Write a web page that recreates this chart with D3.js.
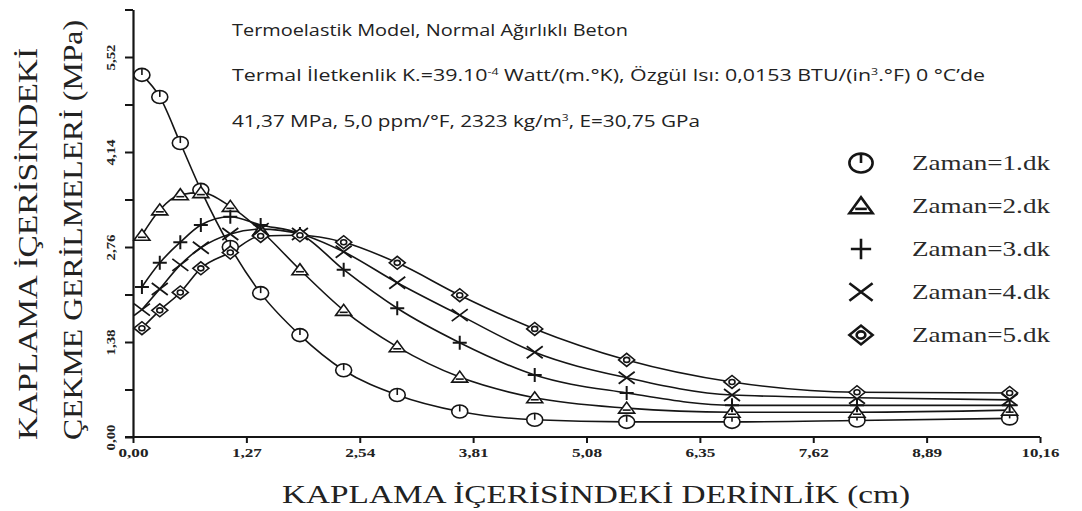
<!DOCTYPE html>
<html><head><meta charset="utf-8">
<script src="https://cdn.jsdelivr.net/npm/d3@7"></script>
<style>body{margin:0;background:#fff}svg{display:block}</style>
</head><body>
<svg id="c" width="1082" height="511"></svg>
<script>
// ---- data ----
const depth = [0.10,0.30,0.53,0.76,1.09,1.43,1.87,2.36,2.96,3.66,4.50,5.53,6.71,8.11,9.82];
const zaman1 = [5.26,4.94,4.27,3.59,2.76,2.09,1.48,0.97,0.61,0.37,0.25,0.22,0.22,0.24,0.27];
const zaman2 = [2.93,3.30,3.52,3.55,3.35,3.00,2.43,1.84,1.31,0.87,0.57,0.42,0.36,0.36,0.39];
const zaman3 = [2.18,2.53,2.83,3.08,3.20,3.08,2.95,2.43,1.87,1.37,0.90,0.64,0.46,0.46,0.46];
const zaman4 = [1.85,2.15,2.50,2.75,2.95,3.02,2.95,2.69,2.24,1.77,1.23,0.86,0.61,0.57,0.54];
const zaman5 = [1.58,1.84,2.10,2.45,2.68,2.92,2.93,2.83,2.53,2.06,1.57,1.12,0.80,0.65,0.64];
const seriesNames = ["Zaman=1.dk","Zaman=2.dk","Zaman=3.dk","Zaman=4.dk","Zaman=5.dk"];
const xTicks = [0,1.27,2.54,3.81,5.08,6.35,7.62,8.89,10.16];
const yTicks = [0,0.69,1.38,2.07,2.76,3.45,4.14,4.83,5.52,6.21];
const yLabelTicks = [0,1.38,2.76,4.14,5.52];
const noteLines = ["Termoelastik Model, Normal  Ağırlıklı Beton","Termal İletkenlik","41,37 MPa, 5,0 ppm/°F,  2323 kg/m"];

const svg = d3.select("#c");
const x = d3.scaleLinear().domain([0,10.16]).range([133,1040]);
const y = d3.scaleLinear().domain([0,6.21]).range([437,9.5]);
const ink = "#151515";
const fmt = v => v.toFixed(2).replace(".",",");

// axes
const xAxis = d3.axisBottom(x).tickValues(xTicks).tickSize(6).tickFormat(fmt).tickSizeOuter(0);
const gx = svg.append("g").attr("transform","translate(0,437)").call(xAxis);
gx.select(".domain").attr("stroke",ink).attr("stroke-width",2.2).attr("d","M125,0H1040");
gx.selectAll(".tick line").attr("stroke",ink).attr("stroke-width",2);
gx.selectAll(".tick text").attr("fill","#222").attr("font-family","Liberation Serif").attr("font-weight","bold")
  .attr("font-size",12).attr("dy",0).attr("y",20)
  .attr("textLength",d=>d>=10?38:30).attr("lengthAdjust","spacingAndGlyphs");

const yAxis = d3.axisLeft(y).tickValues(yTicks).tickSize(8).tickFormat(d => yLabelTicks.includes(d)? fmt(d):"").tickSizeOuter(0);
const gy = svg.append("g").attr("transform","translate(133,0)").call(yAxis);
gy.select(".domain").attr("stroke",ink).attr("stroke-width",2.2);
gy.selectAll(".tick line").attr("stroke",ink).attr("stroke-width",2);
gy.selectAll(".tick text").attr("fill","#222").attr("font-family","Liberation Serif").attr("font-weight","bold")
  .attr("font-size",12).attr("x",0).attr("dy",0).attr("text-anchor","middle")
  .attr("transform","translate(-22,0) rotate(-90)").attr("y",4)
  .attr("textLength",d=>yLabelTicks.includes(d)?26:null).attr("lengthAdjust","spacingAndGlyphs");

// marker shapes
function marker(g, k, s){
  g.attr("fill","none").attr("stroke",ink).attr("stroke-width",1.6);
  if(k===0){
    g.append("ellipse").attr("rx",8*s).attr("ry",6.5*s).attr("fill","#fff");
    g.append("line").attr("x1",0).attr("x2",0).attr("y1",-6.5*s).attr("y2",0);
  } else if(k===1){
    g.append("path").attr("fill","#fff").attr("d",`M${-8*s},${5*s}L0,${-6*s}L${8*s},${5*s}Z`);
    g.append("line").attr("x1",-4*s).attr("x2",4*s).attr("y1",2*s).attr("y2",2*s);
  } else if(k===2){
    g.append("path").attr("stroke-width",2).attr("d",`M${-7*s},0H${7*s}M0,${-7*s}V${7*s}`);
  } else if(k===3){
    g.append("path").attr("stroke-width",1.8).attr("d",`M${-8*s},${-6*s}L${8*s},${6*s}M${-8*s},${6*s}L${8*s},${-6*s}`);
  } else {
    g.append("path").attr("fill","#fff").attr("d",`M${-8*s},0L0,${-6.5*s}L${8*s},0L0,${6.5*s}Z`);
    g.append("ellipse").attr("rx",3*s).attr("ry",2.5*s);
  }
}

const allSeries = [zaman1,zaman2,zaman3,zaman4,zaman5];
const line = d3.line().x(d=>x(d[0])).y(d=>y(d[1])).curve(d3.curveMonotoneX);
allSeries.forEach((vals,i)=>{
  const pts = depth.map((d,j)=>[d,vals[j]]);
  svg.append("path").attr("d",line(pts)).attr("fill","none").attr("stroke",ink).attr("stroke-width",1.6);
});
allSeries.forEach((vals,i)=>{
  depth.forEach((d,j)=>{
    const g = svg.append("g").attr("transform",`translate(${x(d)},${y(vals[j])})`);
    marker(g,i,1);
  });
});

// legend
const legY = [163,206,249,292,335];
seriesNames.forEach((n,i)=>{
  const g = svg.append("g").attr("transform",`translate(861,${legY[i]})`);
  marker(g,i,1.45);
  g.selectAll("*").attr("stroke-width",2.6);
  svg.append("text").attr("x",912).attr("y",legY[i]+7).attr("font-family","Liberation Serif")
    .attr("font-size",21).attr("fill","#2a2a2a").attr("textLength",138).attr("lengthAdjust","spacingAndGlyphs").text(n);
});

// notes
const nf = "'Open Sans', 'Noto Sans', sans-serif";
const ns = 15.5;
svg.append("text").attr("x",232).attr("y",36).attr("font-family",nf).attr("font-size",ns).attr("fill","#222")
  .attr("textLength",396).attr("lengthAdjust","spacingAndGlyphs").text(noteLines[0]);
const t2 = svg.append("text").attr("x",232).attr("y",81).attr("font-family",nf).attr("font-size",ns).attr("fill","#222")
  .attr("textLength",753).attr("lengthAdjust","spacingAndGlyphs");
t2.append("tspan").text(noteLines[1]+" K.=39.10");
t2.append("tspan").attr("font-size",9).attr("dy",-6).text("-4");
t2.append("tspan").attr("dy",6).text(" Watt/(m.°K),  Özgül Isı: 0,0153 BTU/(in");
t2.append("tspan").attr("font-size",9).attr("dy",-6).text("3");
t2.append("tspan").attr("dy",6).text(".°F) 0 °C’de");
const t3 = svg.append("text").attr("x",232).attr("y",127).attr("font-family",nf).attr("font-size",ns).attr("fill","#222")
  .attr("textLength",468).attr("lengthAdjust","spacingAndGlyphs");
t3.append("tspan").text(noteLines[2]);
t3.append("tspan").attr("font-size",9).attr("dy",-6).text("3");
t3.append("tspan").attr("dy",6).text(", E=30,75 GPa");

// axis titles
svg.append("text").attr("transform","translate(37,440) rotate(-90)").attr("font-family","Liberation Serif")
  .attr("font-size",27).attr("fill","#222").attr("textLength",392).attr("lengthAdjust","spacingAndGlyphs")
  .text("KAPLAMA İÇERİSİNDEKİ");
svg.append("text").attr("transform","translate(82,440) rotate(-90)").attr("font-family","Liberation Serif")
  .attr("font-size",27).attr("fill","#222").attr("textLength",420).attr("lengthAdjust","spacingAndGlyphs")
  .text("ÇEKME GERİLMELERİ (MPa)");
svg.append("text").attr("x",282).attr("y",503).attr("font-family","Liberation Serif")
  .attr("font-size",26).attr("fill","#222").attr("textLength",628).attr("lengthAdjust","spacingAndGlyphs")
  .text("KAPLAMA İÇERİSİNDEKİ DERİNLİK (cm)");
</script>
</body></html>
